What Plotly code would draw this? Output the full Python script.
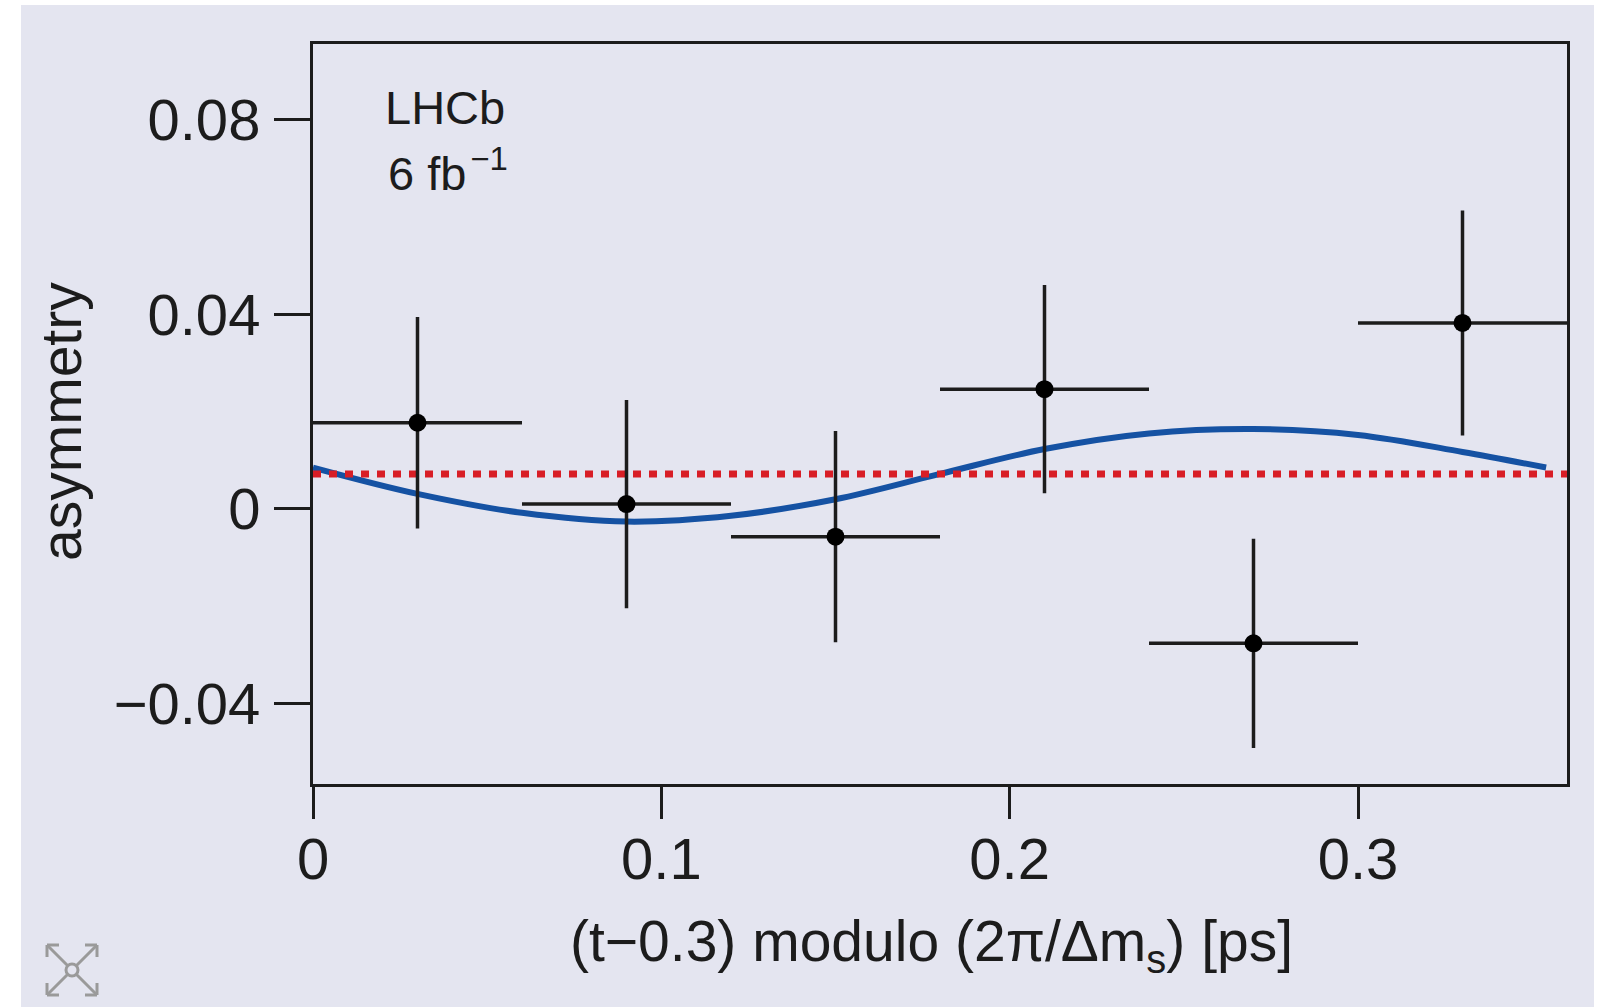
import plotly.graph_objects as go

# Binned asymmetry measurements
bin_centers = [0.03, 0.09, 0.15, 0.21, 0.27, 0.33]
bin_half_width = [0.03, 0.03, 0.03, 0.03, 0.03, 0.03]
asymmetry = [0.0177, 0.0010, -0.0057, 0.0246, -0.0276, 0.0382]
asym_err = [0.0217, 0.0214, 0.0217, 0.0214, 0.0215, 0.0231]

# Oscillating fit projection
fit_t = [0.0, 0.03, 0.06, 0.09, 0.12, 0.15, 0.18, 0.21, 0.24, 0.27, 0.30, 0.33, 0.354]
fit_a = [0.0085, 0.0031, -0.0008, -0.0026, -0.0014, 0.0020, 0.0072, 0.0123,
         0.0155, 0.0164, 0.0152, 0.0117, 0.0085]

# Constant (no oscillation) hypothesis
const_t = [0.0, 0.36]
const_a = [0.0072, 0.0072]

x_ticks = [0, 0.1, 0.2, 0.3]
x_tick_text = ["0", "0.1", "0.2", "0.3"]
y_ticks = [-0.04, 0, 0.04, 0.08]
y_tick_text = ["\u22120.04", "0", "0.04", "0.08"]

W, H = 1599, 1007
L, R, T, B = 313, 1567, 44, 784
PW, PH = R - L, B - T


def px(X):
    return (X - L) / PW


def py(Y):
    return (B - Y) / PH


FONT = "Liberation Sans, Arial, sans-serif"
INK = "#1c1c1c"
BG = "#e4e5f0"

fig = go.Figure()

fig.add_trace(go.Scatter(
    x=fit_t, y=fit_a, mode="lines",
    line=dict(color="#1552a3", width=6, shape="spline", smoothing=1.0),
    hoverinfo="skip", showlegend=False,
))
fig.add_trace(go.Scatter(
    x=const_t, y=const_a, mode="lines",
    line=dict(color="#d81e26", width=7, dash="8px,8px"),
    hoverinfo="skip", showlegend=False,
))
fig.add_trace(go.Scatter(
    x=bin_centers, y=asymmetry, mode="markers",
    marker=dict(color="#000000", size=18),
    error_x=dict(type="data", array=bin_half_width, color=INK, thickness=3.5, width=0),
    error_y=dict(type="data", array=asym_err, color=INK, thickness=3.5, width=0),
    showlegend=False,
))

shapes = [
    # tinted panel behind the figure
    dict(type="rect", xref="paper", yref="paper", layer="below",
         x0=px(21), x1=px(1594), y0=py(1010), y1=py(5),
         fillcolor=BG, line=dict(width=0)),
]

# expand icon in the lower-left corner
icon_col = "#9a9a9a"
cx, cy, r = 72, 970, 6
x0, x1, y0, y1 = 47, 97, 945, 995
a = 12
for (ex, ey, sx, sy) in [(x0, y0, 1, 1), (x1, y0, -1, 1), (x0, y1, 1, -1), (x1, y1, -1, -1)]:
    shapes.append(dict(type="line", xref="paper", yref="paper",
                       x0=px(cx - sx * r * 0.75), y0=py(cy - sy * r * 0.75),
                       x1=px(ex), y1=py(ey), line=dict(color=icon_col, width=3)))
    shapes.append(dict(type="line", xref="paper", yref="paper",
                       x0=px(ex), y0=py(ey), x1=px(ex + sx * a), y1=py(ey),
                       line=dict(color=icon_col, width=3)))
    shapes.append(dict(type="line", xref="paper", yref="paper",
                       x0=px(ex), y0=py(ey), x1=px(ex), y1=py(ey + sy * a),
                       line=dict(color=icon_col, width=3)))
shapes.append(dict(type="circle", xref="paper", yref="paper",
                   x0=px(cx - r), x1=px(cx + r), y0=py(cy + r), y1=py(cy - r),
                   fillcolor=BG, line=dict(color=icon_col, width=3)))

annotations = [
    dict(text="LHCb", xref="paper", yref="paper", x=px(383), y=py(107),
         xanchor="left", yanchor="middle", showarrow=False,
         font=dict(family=FONT, size=47, color=INK)),
    dict(text="6 fb\u200a<sup>\u22121</sup>", xref="paper", yref="paper", x=px(386), y=py(170),
         xanchor="left", yanchor="middle", showarrow=False,
         font=dict(family=FONT, size=47, color=INK)),
    dict(text="(t\u22120.3) modulo (2\u03c0/\u0394m<sub>s</sub>) [ps]",
         xref="paper", yref="paper", x=px(931), y=py(945),
         xanchor="center", yanchor="middle", showarrow=False,
         font=dict(family=FONT, size=57, color=INK)),
    dict(text="asymmetry", xref="paper", yref="paper", x=px(61), y=py(422),
         xanchor="center", yanchor="middle", textangle=-90, showarrow=False,
         font=dict(family=FONT, size=57, color=INK)),
]

fig.update_layout(
    width=W, height=H,
    margin=dict(l=L, r=W - R, t=T, b=H - B, autoexpand=False),
    paper_bgcolor="#ffffff", plot_bgcolor=BG,
    shapes=shapes, annotations=annotations,
    font=dict(family=FONT, color=INK),
)
fig.update_xaxes(
    range=[0, 0.36], tickvals=x_ticks, ticktext=x_tick_text,
    showline=True, linecolor=INK, linewidth=3, mirror=True,
    ticks="outside", ticklen=32, tickwidth=2.5, tickcolor=INK,
    tickfont=dict(family=FONT, size=58, color=INK),
    showgrid=False, zeroline=False, ticklabelstandoff=-10,
)
fig.update_yaxes(
    range=[-0.0565, 0.0955], tickvals=y_ticks, ticktext=y_tick_text,
    showline=True, linecolor=INK, linewidth=3, mirror=True,
    ticks="outside", ticklen=36, tickwidth=2.5, tickcolor=INK,
    tickfont=dict(family=FONT, size=58, color=INK),
    showgrid=False, zeroline=False, ticklabelstandoff=2,
)

fig.write_html("out.html", config={"displayModeBar": False})
